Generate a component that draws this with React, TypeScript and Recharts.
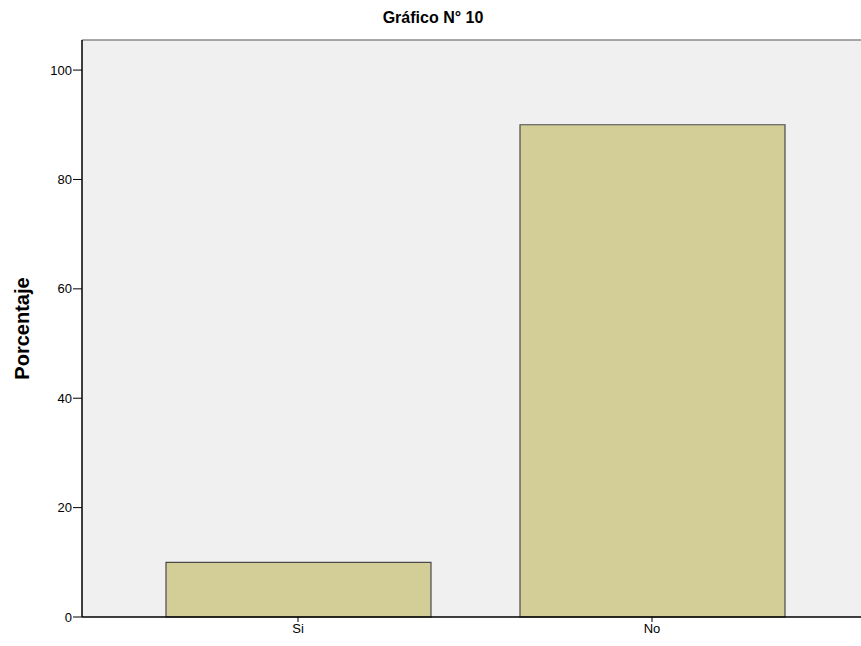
import { Bar, BarChart, CartesianGrid, ReferenceLine, XAxis, YAxis } from "recharts";

const CATEGORIES = ["Si", "No"];
const PERCENT = [10, 90];
const Y_TICKS = [0, 20, 40, 60, 80, 100];

const DATA = CATEGORIES.map((name, i) => ({ name, value: PERCENT[i] }));

const FONT = "'Liberation Sans', Arial, sans-serif";

function YLabel(props: any) {
  const vb = props.viewBox || {};
  const cx = 21;
  const cy = vb.y + vb.height / 2;
  return (
    <text
      x={cx}
      y={cy}
      transform={`rotate(-90 ${cx} ${cy})`}
      textAnchor="middle"
      fontWeight="bold"
      fontSize={20}
      fill="#000"
      fontFamily={FONT}
    >
      Porcentaje
    </text>
  );
}

export default function App() {
  return (
    <div
      style={{
        position: "fixed",
        left: 0,
        top: 0,
        width: 861,
        height: 646,
        overflow: "hidden",
        background: "#fff",
        fontFamily: FONT,
      }}
    >
      <div
        style={{
          position: "absolute",
          left: 0,
          top: 8,
          width: 866,
          textAlign: "center",
          fontWeight: "bold",
          fontSize: 16,
          lineHeight: "20px",
          color: "#000",
        }}
      >
        Gráfico N° 10
      </div>
      <div style={{ position: "absolute", left: 8, top: 8 }}>
        <BarChart width={860} height={630} data={DATA} margin={{ top: 32, right: 0, bottom: 0, left: 0 }}>
          <CartesianGrid fill="#F0F0F0" horizontal={false} vertical={false} />
          <ReferenceLine y={105.5} stroke="#8a8a8a" strokeWidth={1.5} />
          <XAxis
            dataKey="name"
            height={21}
            padding={{ left: 39, right: 39 }}
            axisLine={{ stroke: "#000", strokeWidth: 1.5 }}
            tickLine={{ stroke: "#000" }}
            tickSize={5}
            tick={{ fill: "#000", fontSize: 13, fontFamily: FONT }}
          />
          <YAxis
            width={74}
            domain={[0, 105.5]}
            ticks={Y_TICKS}
            axisLine={{ stroke: "#000", strokeWidth: 1.5 }}
            tickLine={{ stroke: "#000" }}
            tickSize={9}
            tickMargin={1}
            tick={{ fill: "#000", fontSize: 13, fontFamily: FONT }}
            label={<YLabel />}
          />
          <Bar dataKey="value" barSize={265} fill="#D3CE97" stroke="#4a4a4a" strokeWidth={1.2} isAnimationActive={false} />
        </BarChart>
      </div>
    </div>
  );
}
